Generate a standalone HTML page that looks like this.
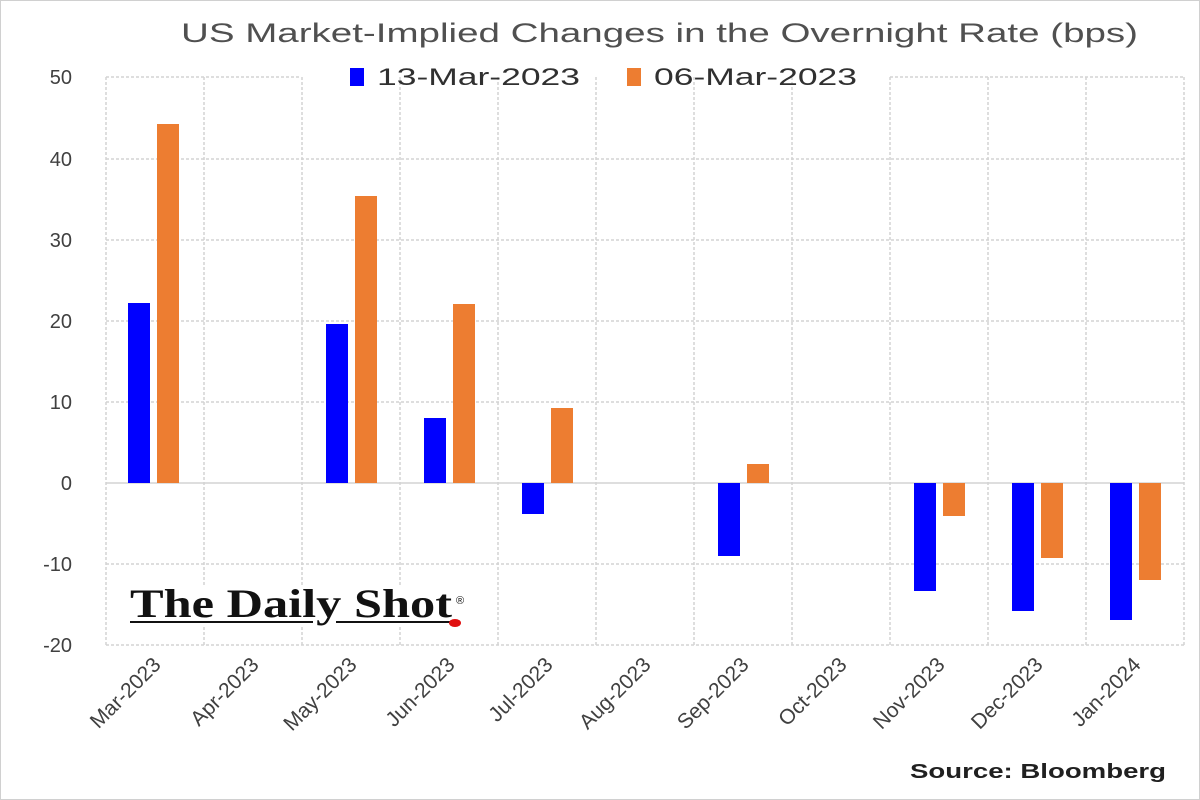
<!DOCTYPE html>
<html><head><meta charset="utf-8"><style>
body{margin:0;background:#fff}
svg{display:block}
text{font-family:"Liberation Sans",sans-serif}
text.serif{font-family:"Liberation Serif",serif}
</style></head><body>
<svg width="1200" height="800" viewBox="0 0 1200 800">
<rect x="0.5" y="0.5" width="1199" height="799" fill="#fff" stroke="#d0d0d0"/>
<text x="181" y="42" font-size="27" fill="#505050" textLength="957" lengthAdjust="spacingAndGlyphs">US Market-Implied Changes in the Overnight Rate (bps)</text>
<g stroke="#d4d4d4" stroke-width="1.5" stroke-dasharray="3,2">
<line x1="106" y1="159" x2="1184" y2="159"/>
<line x1="106" y1="240" x2="1184" y2="240"/>
<line x1="106" y1="321" x2="1184" y2="321"/>
<line x1="106" y1="402" x2="1184" y2="402"/>
<line x1="106" y1="564" x2="1184" y2="564"/>
<line x1="106" y1="645" x2="1184" y2="645"/>
<line x1="106" y1="77" x2="300" y2="77"/>
<line x1="890" y1="77" x2="1184" y2="77"/>
<line x1="106" y1="77" x2="106" y2="645"/>
<line x1="204" y1="77" x2="204" y2="645"/>
<line x1="302" y1="77" x2="302" y2="645"/>
<line x1="400" y1="77" x2="400" y2="645"/>
<line x1="498" y1="77" x2="498" y2="645"/>
<line x1="596" y1="77" x2="596" y2="645"/>
<line x1="694" y1="77" x2="694" y2="645"/>
<line x1="792" y1="77" x2="792" y2="645"/>
<line x1="890" y1="77" x2="890" y2="645"/>
<line x1="988" y1="77" x2="988" y2="645"/>
<line x1="1086" y1="77" x2="1086" y2="645"/>
<line x1="1184" y1="77" x2="1184" y2="645"/>
</g>
<line x1="106" y1="483" x2="1184" y2="483" stroke="#d4d4d4" stroke-width="1.5"/>
<g font-size="20" fill="#404040" text-anchor="end">
<text x="72" y="84">50</text><text x="72" y="166">40</text><text x="72" y="247">30</text>
<text x="72" y="328">20</text><text x="72" y="409">10</text><text x="72" y="490">0</text>
<text x="72" y="571">-10</text><text x="72" y="652">-20</text>
</g>
<g fill="#0000ff">
<rect x="128" y="303" width="22" height="180"/>
<rect x="326" y="324" width="22" height="159"/>
<rect x="424" y="418" width="22" height="65"/>
<rect x="522" y="483" width="22" height="31"/>
<rect x="718" y="483" width="22" height="73"/>
<rect x="914" y="483" width="22" height="108"/>
<rect x="1012" y="483" width="22" height="128"/>
<rect x="1110" y="483" width="22" height="137"/>
</g>
<g fill="#ed7d31">
<rect x="157" y="124" width="22" height="359"/>
<rect x="355" y="196" width="22" height="287"/>
<rect x="453" y="304" width="22" height="179"/>
<rect x="551" y="408" width="22" height="75"/>
<rect x="747" y="464" width="22" height="19"/>
<rect x="943" y="483" width="22" height="33"/>
<rect x="1041" y="483" width="22" height="75"/>
<rect x="1139" y="483" width="22" height="97"/>
</g>
<rect x="350" y="68" width="14" height="18" fill="#0000ff"/>
<text x="377" y="85" font-size="24" fill="#303030" textLength="203" lengthAdjust="spacingAndGlyphs">13-Mar-2023</text>
<rect x="627" y="68" width="14" height="18" fill="#ed7d31"/>
<text x="654" y="85" font-size="24" fill="#303030" textLength="203" lengthAdjust="spacingAndGlyphs">06-Mar-2023</text>
<g font-size="21" fill="#404040" text-anchor="end">
<text transform="translate(162,666) rotate(-45)">Mar-2023</text>
<text transform="translate(260,666) rotate(-45)">Apr-2023</text>
<text transform="translate(358,666) rotate(-45)">May-2023</text>
<text transform="translate(456,666) rotate(-45)">Jun-2023</text>
<text transform="translate(554,666) rotate(-45)">Jul-2023</text>
<text transform="translate(652,666) rotate(-45)">Aug-2023</text>
<text transform="translate(750,666) rotate(-45)">Sep-2023</text>
<text transform="translate(848,666) rotate(-45)">Oct-2023</text>
<text transform="translate(946,666) rotate(-45)">Nov-2023</text>
<text transform="translate(1044,666) rotate(-45)">Dec-2023</text>
<text transform="translate(1142,666) rotate(-45)">Jan-2024</text>
</g>
<rect x="128" y="585" width="342" height="40" fill="#fff"/>
<text class="serif" x="130" y="617" font-weight="bold" font-size="40" fill="#111" textLength="322" lengthAdjust="spacingAndGlyphs">The Daily Shot</text>
<text x="456" y="604" font-size="11" fill="#111">®</text>
<line x1="130" y1="622" x2="313" y2="622" stroke="#111" stroke-width="2"/>
<line x1="336" y1="622" x2="452" y2="622" stroke="#111" stroke-width="2"/>
<ellipse cx="455" cy="623" rx="6" ry="4" fill="#e01010"/>
<text x="910" y="778" font-size="20" font-weight="bold" fill="#202020" textLength="256" lengthAdjust="spacingAndGlyphs">Source: Bloomberg</text>
</svg>
</body></html>
